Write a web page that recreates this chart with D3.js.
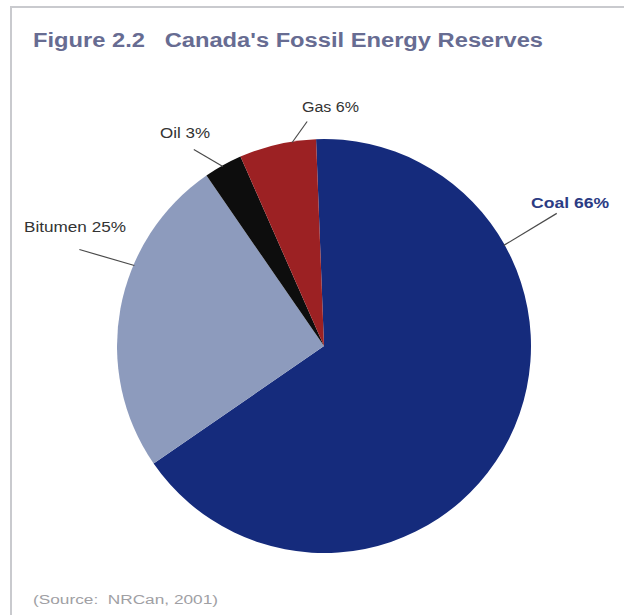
<!DOCTYPE html>
<html>
<head>
<meta charset="utf-8">
<script src="https://cdn.jsdelivr.net/npm/d3@7"></script>
<style>
  html, body { margin: 0; padding: 0; background: #ffffff; }
  svg { display: block; }
</style>
</head>
<body>
<svg id="chart" width="624" height="615"></svg>
<script>
// Reserve shares, in drawing order clockwise from the top
const categories = ["Coal", "Bitumen", "Oil", "Gas"];
const shares = [66, 25, 3, 6];
const sliceColors = ["#152b7c", "#8d9bbd", "#0d0d0d", "#9c2123"];
const labelText = ["Coal 66%", "Bitumen 25%", "Oil 3%", "Gas 6%"];

const svg = d3.select("#chart");
const W = 624, H = 615;
const cx = 324, cy = 346, R = 207;
const fontFam = "Liberation Sans, Arial, sans-serif";

// Page frame: top and left rules
svg.append("line").attr("x1", 10).attr("x2", W).attr("y1", 7).attr("y2", 7)
  .attr("stroke", "#c9cace").attr("stroke-width", 2);
svg.append("line").attr("x1", 11).attr("x2", 11).attr("y1", 7).attr("y2", H)
  .attr("stroke", "#c9cace").attr("stroke-width", 2);

// Title
svg.append("text")
  .attr("x", 33).attr("y", 47)
  .attr("font-family", fontFam)
  .attr("font-weight", "bold")
  .attr("font-size", 20)
  .attr("fill", "#676c92")
  .attr("xml:space", "preserve")
  .attr("textLength", 510)
  .attr("lengthAdjust", "spacingAndGlyphs")
  .text("Figure 2.2   Canada's Fossil Energy Reserves");

const data = categories.map((c, i) => ({ name: c, value: shares[i], color: sliceColors[i], label: labelText[i] }));

const pie = d3.pie()
  .sort(null)
  .value(d => d.value)
  .startAngle(-2.2 * Math.PI / 180)
  .endAngle(-2.2 * Math.PI / 180 + 2 * Math.PI);

const arc = d3.arc().innerRadius(0).outerRadius(R);
const arcs = pie(data);

const g = svg.append("g").attr("transform", `translate(${cx},${cy})`);
g.selectAll("path.slice")
  .data(arcs)
  .join("path")
  .attr("class", "slice")
  .attr("d", arc)
  .attr("fill", d => d.data.color);

// Callout styling: where along the slice the leader leaves the rim, the leader's
// outward offset, and the label's box
const callouts = {
  Coal:    { frac: 0.265, off: [53, -32],  lx: 531, ly: 208, len: 78,  bold: true,  color: "#2b3c84" },
  Bitumen: { frac: 0.64,  off: [-55, -16], lx: 24,  ly: 232, len: 102, bold: false, color: "#333333" },
  Oil:     { frac: 0.48,  off: [-29, -17], lx: 160, ly: 138, len: 50,  bold: false, color: "#333333" },
  Gas:     { frac: 0.69,  off: [15, -21],  lx: 302, ly: 112, len: 57,  bold: false, color: "#333333" }
};

arcs.forEach(a => {
  const c = callouts[a.data.name];
  const ang = a.startAngle + (a.endAngle - a.startAngle) * c.frac;
  const x0 = Math.sin(ang) * (R - 1), y0 = -Math.cos(ang) * (R - 1);
  g.append("line")
    .attr("x1", x0).attr("y1", y0)
    .attr("x2", x0 + c.off[0]).attr("y2", y0 + c.off[1])
    .attr("stroke", "#4a4a4a").attr("stroke-width", 1.2);

  svg.append("text")
    .attr("x", c.lx).attr("y", c.ly)
    .attr("font-family", fontFam)
    .attr("font-size", 14)
    .attr("font-weight", c.bold ? "bold" : "normal")
    .attr("fill", c.color)
    .attr("textLength", c.len)
    .attr("lengthAdjust", "spacingAndGlyphs")
    .text(a.data.label);
});

// Source note
svg.append("text")
  .attr("x", 33).attr("y", 604)
  .attr("font-family", fontFam)
  .attr("font-size", 12.5)
  .attr("fill", "#a0a0a4")
  .attr("xml:space", "preserve")
  .attr("textLength", 185)
  .attr("lengthAdjust", "spacingAndGlyphs")
  .text("(Source:  NRCan, 2001)");
</script>
</body>
</html>
